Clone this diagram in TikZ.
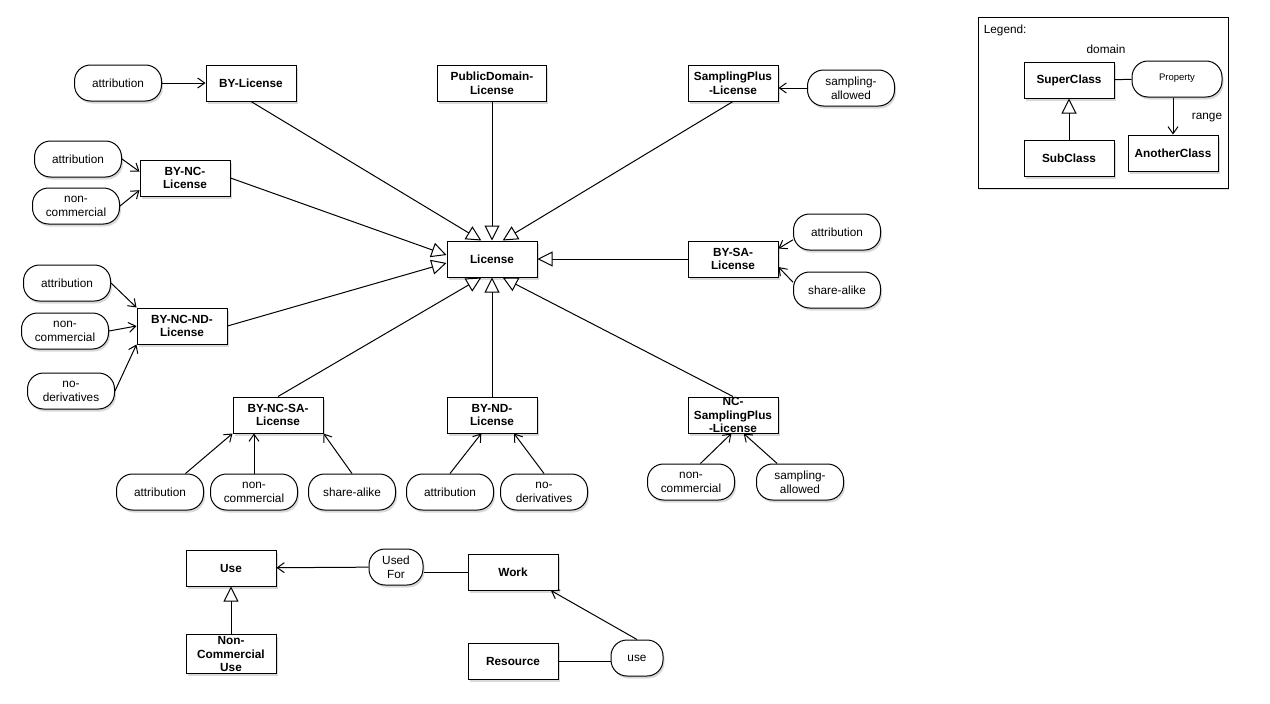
\documentclass[tikz,border=0pt]{standalone}
\usepackage{fontspec}
\setmainfont{Liberation Sans}
\usetikzlibrary{positioning,arrows.meta,shadows}

\begin{document}
\begin{tikzpicture}[x=1pt, y=-1pt, node distance=100pt, line width=1pt,
  class node/.style={draw, fill=white, font=\fontsize{11.8}{13.8}\selectfont\bfseries, align=center,
    minimum width=90pt, minimum height=36pt, inner sep=2pt,
    drop shadow={shadow xshift=1.5pt, shadow yshift=-2.5pt, opacity=0.3}},
  prop node/.style={draw, fill=white, rounded corners=16pt, align=center,
    minimum width=87pt, minimum height=36pt, inner sep=1pt,
    drop shadow={shadow xshift=1.5pt, shadow yshift=-2.5pt, opacity=0.3}},
  isa/.style={-{Triangle[length=15pt, width=15pt, fill=white]}},
  rel/.style={-{Straight Barb[length=7pt, width=10pt]}}]
  \tikzstyle{every node}=[font=\fontsize{11.8}{13.8}\selectfont]
  \useasboundingbox (0,0) rectangle (1270,704);

  % licenses
  \node[class node] (lic) at (492,259) {License};
  \node[class node, minimum width=109pt] (pdlic) [node distance=176pt, above of=lic] {PublicDomain-\\License};
  \node[class node] (bylic) at (251,83) {BY-License};
  \node[class node] (splic) at (733,83) {SamplingPlus\\-License};
  \node[class node] (bync) at (185,178) {BY-NC-\\License};
  \node[class node] (bysa) [node distance=241pt, right of=lic] {BY-SA-\\License};
  \node[class node] (byncnd) at (182,326) {BY-NC-ND-\\License};
  \node[class node] (byncsa) at (278,415) {BY-NC-SA-\\License};
  \node[class node] (bynd) [node distance=156pt, below of=lic] {BY-ND-\\License};
  \node[class node, label={[font=\fontsize{11.8}{13.8}\selectfont\bfseries, align=center]center:{NC-\\SamplingPlus\\-License}}] (ncsp) at (733,415) {};

  % properties
  \node[prop node] (attr1) [node distance=133pt, left of=bylic] {attribution};
  \node[prop node] (sampall1) at (851,88) {sampling-\\allowed};
  \node[prop node] (attr2) at (78,159) {attribution};
  \node[prop node] (nc2) at (76,206) {non-\\commercial};
  \node[prop node] (attr4) at (837,232) {attribution};
  \node[prop node] (sa4) at (837,290) {share-alike};
  \node[prop node] (attr3) at (67,283) {attribution};
  \node[prop node] (nc3) at (65,331) {non-\\commercial};
  \node[prop node] (noder3) at (71,391) {no-\\derivatives};
  \node[prop node] (attr5) at (160,492) {attribution};
  \node[prop node] (nc5) at (254,492) {non-\\commercial};
  \node[prop node] (sa5) at (352,492) {share-alike};
  \node[prop node] (attr6) at (450,492) {attribution};
  \node[prop node] (noder6) at (544,492) {no-\\derivatives};
  \node[prop node] (nc7) at (691,482) {non-\\commercial};
  \node[prop node] (sampall7) at (800,482) {sampling-\\allowed};

  % use and work
  \node[class node] (use) at (231,568) {Use};
  \node[class node] (ncuse) [node distance=86pt, below of=use] {Non-\\Commercial\\Use};
  \node[prop node, minimum width=54pt] (usedfor) at (396,567) {Used\\For};
  \node[class node] (work) at (513,572) {Work};
  \node[class node] (resource) [node distance=89pt, below of=work] {Resource};
  \node[prop node, minimum width=52pt] (usenode) at (637,658) {use};

  % legend
  \draw[fill=white, drop shadow={shadow xshift=1pt, shadow yshift=-2pt, opacity=0.25}] (978,17) rectangle (1228,188);
  \node[anchor=west] (legendtitle) at (980,30) {Legend:};
  \node (domainlbl) at (1106,49) {domain};
  \node (rangelbl) at (1207,118) {range};
  \node[class node] (super) at (1069,80) {SuperClass};
  \node[class node] (sub) [node distance=78pt, below of=super] {SubClass};
  \node[prop node, minimum width=90pt, font=\fontsize{9.5}{11}\selectfont] (prop) at (1177,79) {\raisebox{4pt}{Property}};
  \node[class node] (another) at (1173,153) {AnotherClass};

  \path[isa]
    (bylic.south) edge (lic.120)
    (pdlic) edge (lic)
    (splic.south) edge (lic.60)
    (bync.east) edge (lic.175)
    (byncnd.east) edge (lic.185)
    (bysa) edge (lic)
    (byncsa.north) edge (lic.240)
    (bynd) edge (lic)
    (ncsp.north) edge (lic.300)
    (ncuse) edge (use)
    (sub) edge (super);

  \path[rel]
    (attr1) edge (bylic)
    (sampall1.west) edge (sampall1.west -| splic.east)
    (attr2.east) edge (bync.172)
    (nc2.east) edge (bync.195)
    (attr4.190) edge (bysa.13)
    (sa4.170) edge (bysa.350)
    (attr3.east) edge (byncnd.north west)
    (nc3.east) edge (byncnd.west)
    (noder3.east) edge (byncnd.south west)
    (attr5.36) edge (byncsa.south west)
    (nc5.north) edge (nc5.north |- byncsa.south)
    (sa5.north) edge (byncsa.south east)
    (attr6.north) edge (bynd.240)
    (noder6.north) edge (bynd.320)
    (nc7.63) edge (ncsp.265)
    (sampall7.141) edge (ncsp.300)
    (usedfor) edge (use)
    (usenode.north) edge (work.334)
    (another.north |- prop.south) edge (another.north);

  \path[-]
    (work.west) edge (work.west -| usedfor.east)
    (resource.east) edge (resource.east -| usenode.west)
    (super) edge (prop);
\end{tikzpicture}
\end{document}
